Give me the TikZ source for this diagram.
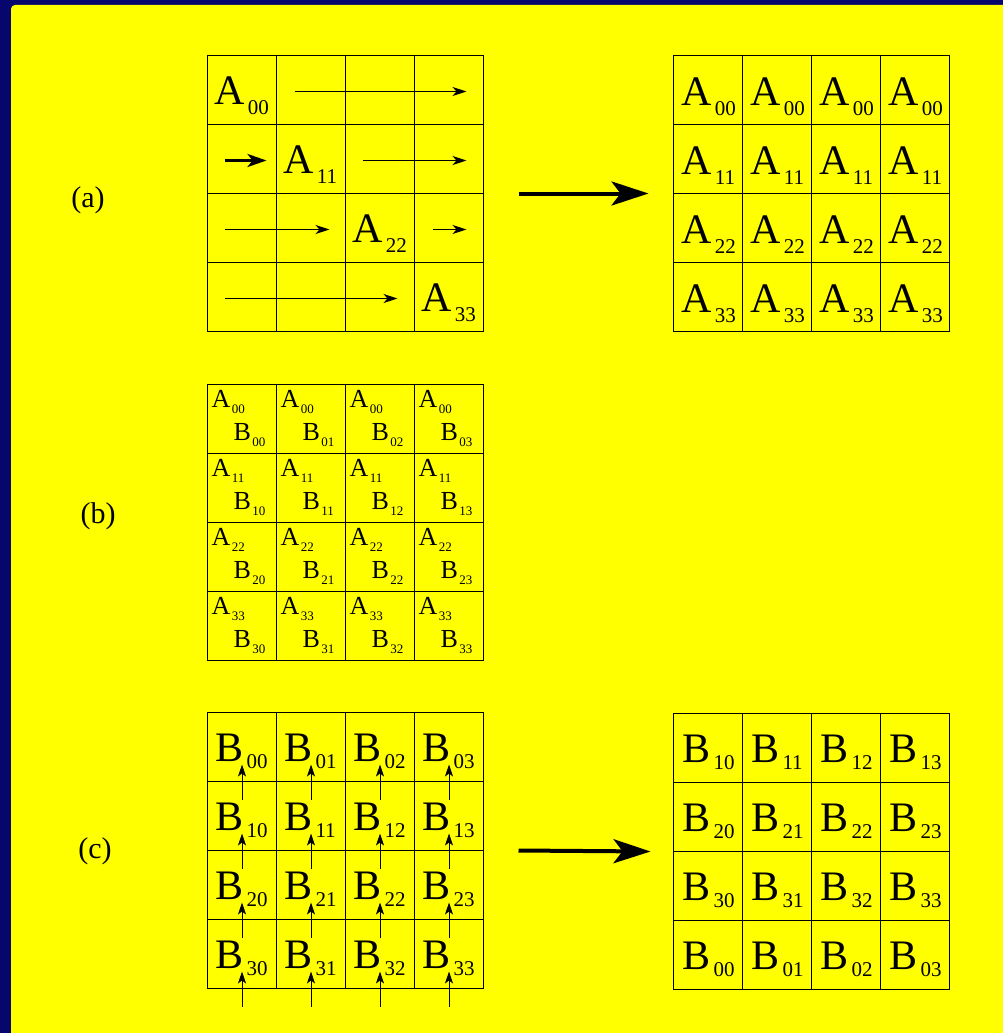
\documentclass[tikz,border=0pt]{standalone}
\usepackage{fontspec}
\setmainfont{Liberation Serif}
\newfontfamily\entryfont{Liberation Serif}
\usetikzlibrary{arrows.meta,calc}

\definecolor{frameblue}{RGB}{6,6,108}
\definecolor{pageyellow}{RGB}{255,255,0}

% block entries: letter with a lowered index
\newcommand\largeentry[3]{\entryfont\fontsize{42}{42}\selectfont #1\kern3pt\raisebox{-#3pt}{\fontsize{21}{21}\selectfont #2}}
\newcommand\smallentry[2]{\entryfont\fontsize{26}{26}\selectfont #1\kern1.5pt\raisebox{-6pt}{\fontsize{13}{13}\selectfont #2}}

% 4x4 grid of named cells with its ruling: name, left, top
\newcommand\cellgrid[3]{%
  \foreach \r in {0,...,3}{
    \foreach \c in {0,...,3}{
      \node[cell] (#1-\r-\c) at ({#2+(\c+0.5)*69},{#3+(\r+0.5)*69}) {};
    }
  }%
  \draw[gridline] (#1-0-0.north west) rectangle (#1-3-3.south east);
  \foreach \k in {1,2,3}{
    \draw[gridline] (#1-0-\k.north west) -- (#1-3-\k.south west);
    \draw[gridline] (#1-\k-0.north west) -- (#1-\k-3.north east);
  }%
}

\tikzset{
  cell/.style={rectangle, minimum width=69pt, minimum height=69pt,
               inner sep=0pt, outer sep=0pt},
  gridline/.style={draw=black, line width=1.5pt},
  entry/.style={anchor=base west, inner sep=0pt, outer sep=0pt},
  flowarrow/.style={line width=1.2pt, -{Stealth[length=14pt,width=9pt,inset=4pt]}},
  fatarrow/.style={line width=3pt, -{Stealth[length=19pt,width=13pt,inset=5pt]}},
  bigarrow/.style={line width=4pt, -{Stealth[length=37pt,width=24pt,inset=9pt]}},
  shiftarrow/.style={line width=1pt, -{Stealth[length=12pt,width=8pt,inset=3pt]}},
  panel/.style={font=\entryfont\fontsize{30}{30}\selectfont, inner sep=0pt},
}

\begin{document}
\begin{tikzpicture}[x=1pt,y=-1pt]
\useasboundingbox (0,0) rectangle (1003,1033);

% background
\fill[frameblue] (0,0) rectangle (1003,1033);
\fill[pageyellow] (1003,1033) -- (11,1033) [rounded corners=4pt] -- (11,5) [sharp corners] -- (1003,5) -- cycle;

% panel labels
\node[panel] (la) at (88,200) {(a)};
\node[panel] (lb) at (98,516) {(b)};
\node[panel] (lc) at (95,851) {(c)};

% grids
\cellgrid{aL}{207.5}{55.5}
\cellgrid{aR}{673.5}{55.5}
\cellgrid{bM}{207.5}{384.5}
\cellgrid{cL}{207.5}{712.5}
\cellgrid{cR}{673.5}{713.5}

% (a) diagonal blocks and their row-wise broadcast
\foreach \k in {0,...,3}{
  \node[entry] (aL-t-\k) at ($(aL-\k-\k.north west)+(7,49)$) {\largeentry{A}{\k\k}{10}};
}
\draw[flowarrow] ([xshift=18pt,yshift=-1.5pt]aL-0-1.west) -- ([xshift=-17pt,yshift=-1.5pt]aL-0-3.east);
\draw[fatarrow]  ([xshift=17pt,yshift=-1.5pt]aL-1-0.west) -- ([xshift=-10pt,yshift=-1.5pt]aL-1-0.east);
\draw[flowarrow] ([xshift=17pt,yshift=-1.5pt]aL-1-2.west) -- ([xshift=-17pt,yshift=-1.5pt]aL-1-3.east);
\draw[flowarrow] ([xshift=17pt,yshift=-1.5pt]aL-2-0.west) -- ([xshift=-16pt,yshift=-1.5pt]aL-2-1.east);
\draw[flowarrow] ([xshift=18pt,yshift=-1.5pt]aL-2-3.west) -- ([xshift=-17pt,yshift=-1.5pt]aL-2-3.east);
\draw[flowarrow] ([xshift=17pt,yshift=-1.5pt]aL-3-0.west) -- ([xshift=-17pt,yshift=-1.5pt]aL-3-2.east);

\foreach \r in {0,...,3}{
  \foreach \c in {0,...,3}{
    \node[entry] (aR-t-\r-\c) at ($(aR-\r-\c.north west)+(8,50)$) {\largeentry{A}{\r\r}{10}};
  }
}
\draw[bigarrow] ([xshift=35pt]aL-1-3.south east) -- ([xshift=-25pt]aR-1-0.south west);

% (b) products of A and B blocks
\foreach \r in {0,...,3}{
  \foreach \c in {0,...,3}{
    \node[entry] (bM-a-\r-\c) at ($(bM-\r-\c.north west)+(4,23)$) {\smallentry{A}{\r\r}};
    \node[entry] (bM-b-\r-\c) at ($(bM-\r-\c.north west)+(26,56)$) {\smallentry{B}{\r\c}};
  }
}

% (c) upward shift of the B blocks
\foreach \r in {0,...,3}{
  \foreach \c in {0,...,3}{
    \node[entry] (cL-t-\r-\c) at ($(cL-\r-\c.north west)+(8,49)$) {\largeentry{B}{\r\c}{7}};
    \draw[shiftarrow] ([yshift=-18pt]cL-\r-\c.south) -- ([yshift=17pt]cL-\r-\c.south);
    \pgfmathtruncatemacro\nr{mod(\r+1,4)}
    \node[entry] (cR-t-\r-\c) at ($(cR-\r-\c.north west)+(9,49)$) {\largeentry{B}{\nr\c}{7}};
  }
}
\draw[bigarrow] ([xshift=35pt]cL-1-3.south east) -- ([xshift=-23pt]cR-1-0.south west);

\end{tikzpicture}
\end{document}
